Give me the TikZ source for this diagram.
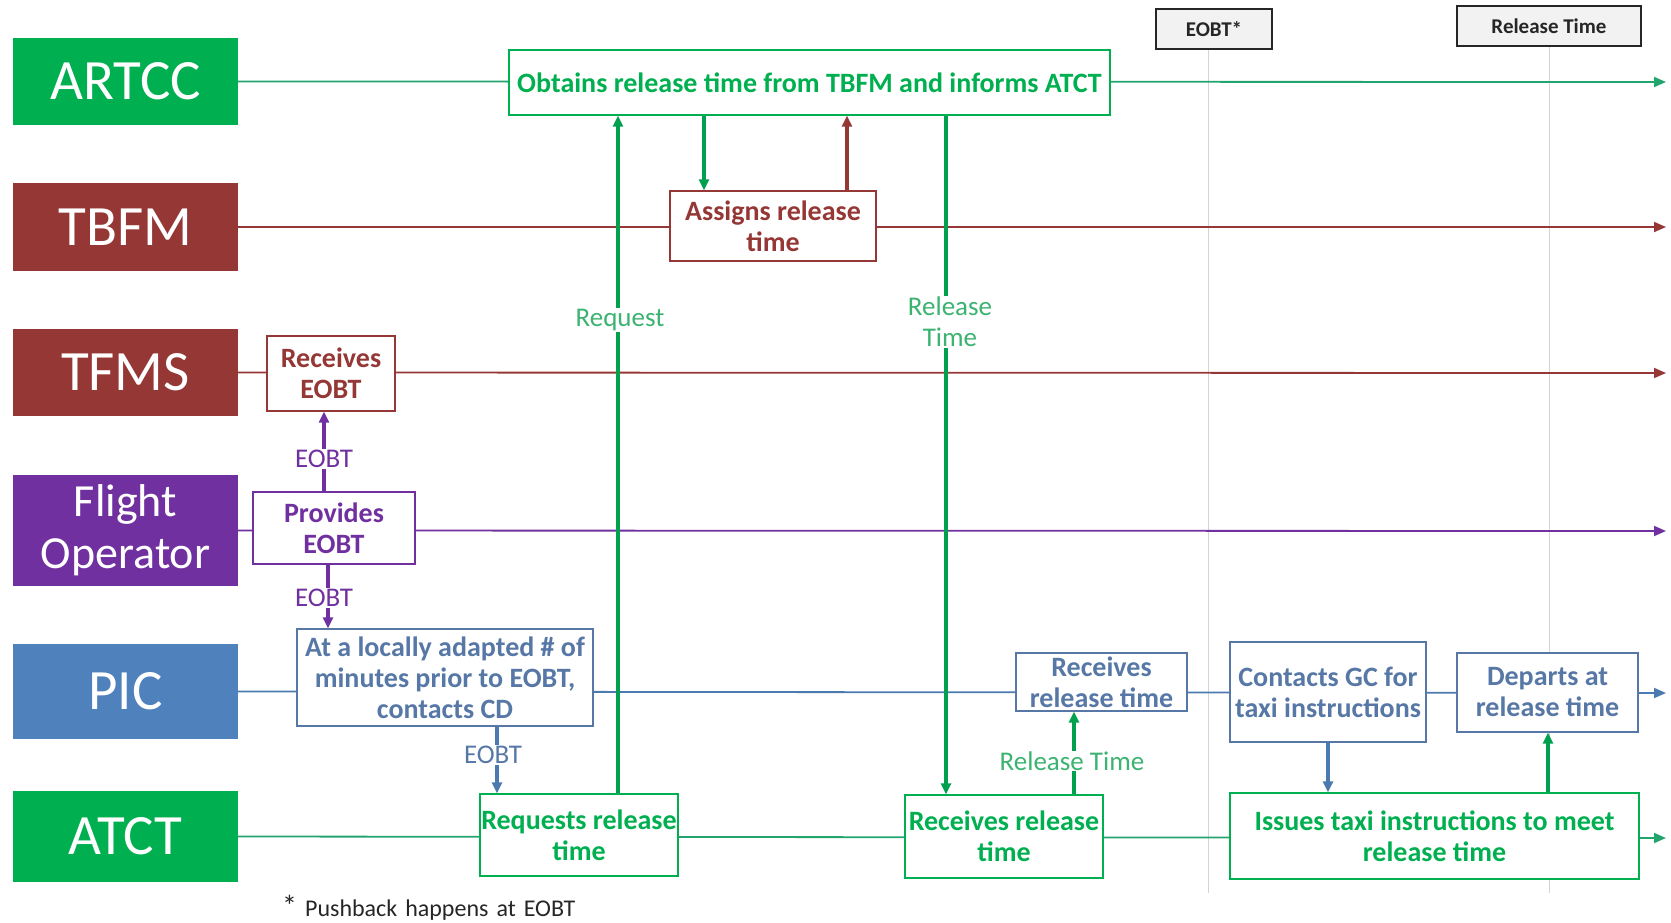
\documentclass[tikz,border=0pt]{standalone}
\usepackage{fontspec}
\setmainfont{Carlito}
\usetikzlibrary{arrows.meta}

\definecolor{cGreen}{HTML}{00B050}
\definecolor{cLaneGreen}{HTML}{22A46E}
\definecolor{cArrowGreen}{HTML}{00A04F}
\definecolor{cLabelGreen}{HTML}{3CB371}
\definecolor{cRed}{HTML}{953735}
\definecolor{cPurple}{HTML}{7030A0}
\definecolor{cBlue}{HTML}{4F81BD}
\definecolor{cBlueText}{HTML}{5778A6}
\definecolor{cBlueLine}{HTML}{4A7AB0}
\definecolor{cGrid}{HTML}{D4D4D4}
\definecolor{cMark}{HTML}{262626}

\pgfdeclarelayer{bg}
\pgfsetlayers{bg,main}

\begin{document}
\begin{tikzpicture}[x=1pt,y=-1pt,
  lanelabel/.style={text=white, minimum width=225pt, inner sep=0pt, align=center,
    font=\fontsize{57}{60}\selectfont},
  stepbox/.style={draw=#1, text=#1, fill=white, line width=1.3pt, inner sep=0pt,
    align=center, font=\bfseries\fontsize{28}{31}\selectfont},
  flowlabel/.style={text=#1, fill=white, inner sep=1pt, align=center,
    font=\fontsize{27}{31}\selectfont},
  markbox/.style={draw=cMark, fill=gray!10, line width=1.8pt, text=cMark,
    inner sep=0pt, font=\bfseries\fontsize{21}{24}\selectfont},
  laneline/.style={draw=#1, line width=1.8pt, -{Triangle[length=12pt,width=10pt]}},
  flowarrow/.style={draw=#1, line width=3.2pt, -{Triangle[length=11pt,width=10pt]}},
  gridline/.style={draw=cGrid, line width=1pt}
]
\useasboundingbox (0,0) rectangle (1671,922);

% lane labels
\node[lanelabel, fill=cGreen,  minimum height=87pt] (artcc) at (125.5,81.5) {ARTCC};
\node[lanelabel, fill=cRed,    minimum height=88pt] (tbfm)  at (125.5,227) {TBFM};
\node[lanelabel, fill=cRed,    minimum height=87pt] (tfms)  at (125.5,372.5) {TFMS};
\node[lanelabel, fill=cPurple, minimum height=111pt,
      font=\fontsize{46}{52}\selectfont] (fo) at (125.5,530.5) {Flight\\Operator};
\node[lanelabel, fill=cBlue,   minimum height=95pt] (pic)   at (125.5,691.5) {PIC};
\node[lanelabel, fill=cGreen,  minimum height=91pt] (atct)  at (125.5,836.5) {ATCT};

% lane ends
\coordinate (artccEnd) at (1666,82);
\coordinate (tbfmEnd)  at (1666,227);
\coordinate (tfmsEnd)  at (1666,373);
\coordinate (foEnd)    at (1666,531);
\coordinate (picEnd)   at (1666,693);
\coordinate (atctEnd)  at (1666,838);

% time markers
\node[markbox, minimum width=116pt, minimum height=40pt] (eobtTop) at (1214,29) {EOBT*};
\node[markbox, minimum width=184pt, minimum height=40pt] (relTop) at (1549,26) {Release Time};
\coordinate (eobtFoot) at (1208,893);
\coordinate (relFoot)  at (1549,893);

% process steps
\node[stepbox=cGreen, minimum width=601pt, minimum height=65pt] (obtain) at (809.5,82.5)
  {Obtains release time from TBFM and informs ATCT};
\node[stepbox=cRed, minimum width=206pt, minimum height=70pt] (assign) at (773,226)
  {Assigns release\\time};
\node[stepbox=cRed, minimum width=128pt, minimum height=75pt] (recvEobt) at (331,373.5)
  {Receives\\EOBT};
\node[stepbox=cPurple, minimum width=162pt, minimum height=72pt] (provEobt) at (334,528)
  {Provides\\EOBT};
\node[stepbox=cBlueText, minimum width=296pt, minimum height=97pt] (locally) at (445,677.5)
  {At a locally adapted \# of\\minutes prior to EOBT,\\contacts CD};
\node[stepbox=cGreen, minimum width=198pt, minimum height=82pt] (reqRel) at (579,835)
  {Requests release\\time};
\node[stepbox=cGreen, minimum width=198pt, minimum height=83pt] (atctRecv) at (1004,836.5)
  {Receives release\\time};
\node[stepbox=cBlueText, minimum width=171pt, minimum height=58pt] (picRecv) at (1101.5,682)
  {Receives\\release time};
\node[stepbox=cBlueText, minimum width=196pt, minimum height=100pt] (contactGC) at (1328,692)
  {Contacts GC for\\taxi instructions};
\node[stepbox=cBlueText, minimum width=181pt, minimum height=79pt] (departs) at (1547.5,692.5)
  {Departs at\\release time};
\node[stepbox=cGreen, minimum width=409pt, minimum height=86pt] (issues) at (1434.5,836)
  {Issues taxi instructions to meet\\release time};

% background: time grid and lane lines
\begin{pgfonlayer}{bg}
  \draw[gridline] (eobtTop.south -| eobtFoot) -- (eobtFoot);
  \draw[gridline] (relTop.south -| relFoot) -- (relFoot);
  \draw[laneline=cLaneGreen] (artcc.east) -- (artccEnd);
  \draw[laneline=cRed]       (tbfm.east) -- (tbfmEnd);
  \draw[laneline=cRed]       (tfms.east) -- (tfmsEnd);
  \draw[laneline=cPurple]    (fo.east) -- (foEnd);
  \draw[laneline=cBlueLine]  (pic.east) -- (picEnd);
  \draw[laneline=cLaneGreen] (atct.east) -- (atctEnd);
\end{pgfonlayer}

% message x positions
\coordinate (xReq) at (618,0);
\coordinate (xAsk) at (704,0);
\coordinate (xAns) at (847,0);
\coordinate (xRel) at (946,0);
\coordinate (xEobtA) at (324,0);
\coordinate (xEobtB) at (328,0);
\coordinate (xEobtC) at (497,0);
\coordinate (xRelB) at (1074,0);
\coordinate (xTaxi) at (1328,0);
\coordinate (xDep) at (1548,0);

% messages
\draw[flowarrow=cArrowGreen] (reqRel.north -| xReq) -- (obtain.south -| xReq);
\draw[flowarrow=cArrowGreen] (obtain.south -| xAsk) -- (assign.north -| xAsk);
\draw[flowarrow=cRed]        (assign.north -| xAns) -- (obtain.south -| xAns);
\draw[flowarrow=cArrowGreen] (obtain.south -| xRel) -- (atctRecv.north -| xRel);
\draw[flowarrow=cPurple]     (provEobt.north -| xEobtA) -- (recvEobt.south -| xEobtA);
\draw[flowarrow=cPurple]     (provEobt.south -| xEobtB) -- (locally.north -| xEobtB);
\draw[flowarrow=cBlueLine]   (locally.south -| xEobtC) -- (reqRel.north -| xEobtC);
\draw[flowarrow=cArrowGreen] (atctRecv.north -| xRelB) -- (picRecv.south -| xRelB);
\draw[flowarrow=cBlueLine]   (contactGC.south -| xTaxi) -- (issues.north -| xTaxi);
\draw[flowarrow=cArrowGreen] (issues.north -| xDep) -- (departs.south -| xDep);

% message labels
\node[flowlabel=cLabelGreen] (lblReq) at (620,320) {Request};
\node[flowlabel=cLabelGreen] (lblRel) at (950,322) {Release\\Time};
\node[flowlabel=cPurple] (lblEobtA) at (324,459) {EOBT};
\node[flowlabel=cPurple] (lblEobtB) at (324,598) {EOBT};
\node[flowlabel=cBlueText] (lblEobtC) at (493,755) {EOBT};
\node[flowlabel=cLabelGreen] (lblRelB) at (1072,761) {Release Time};

% footnote
\node[anchor=base west, inner sep=0pt, text=cMark] (note) at (282,916)
  {\fontsize{30}{30}\selectfont *\fontsize{24}{26}\selectfont\spaceskip=8pt\ Pushback happens at EOBT};
\end{tikzpicture}
\end{document}
